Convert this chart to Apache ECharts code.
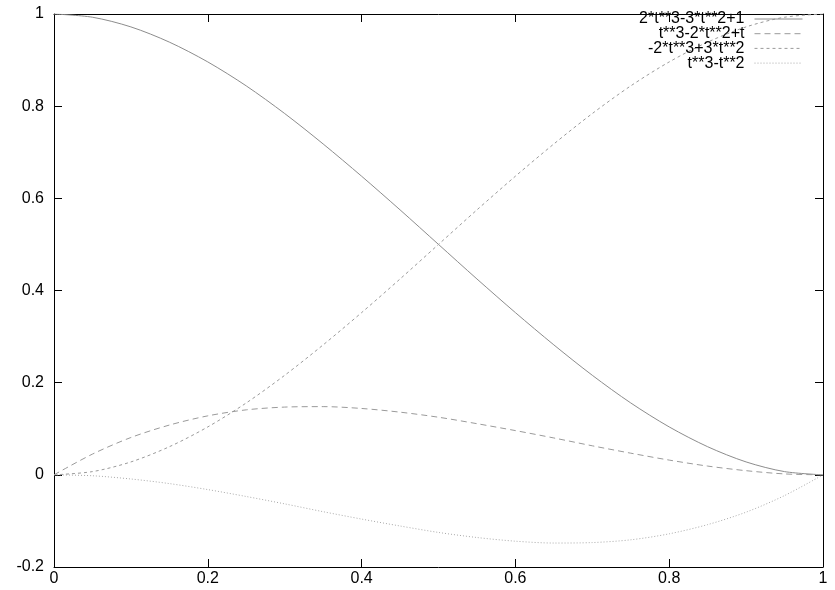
<!DOCTYPE html>
<html>
<head>
<meta charset="utf-8">
<script src="https://cdn.jsdelivr.net/npm/echarts@6/dist/echarts.min.js"></script>
<style>
  html, body { margin: 0; padding: 0; background: #fff; }
  #chart { width: 835px; height: 590px; }
</style>
</head>
<body>
<div id="chart"></div>
<script>
// t samples and curve values
const tValues = [0, 0.05, 0.1, 0.15, 0.2, 0.25, 0.3, 0.35, 0.4, 0.45, 0.5,
                 0.55, 0.6, 0.65, 0.7, 0.75, 0.8, 0.85, 0.9, 0.95, 1];
const h00 = [1, 0.993, 0.972, 0.939, 0.896, 0.844, 0.784, 0.718, 0.648, 0.575, 0.5,
             0.425, 0.352, 0.282, 0.216, 0.156, 0.104, 0.061, 0.028, 0.007, 0];
const h10 = [0, 0.045, 0.081, 0.108, 0.128, 0.141, 0.147, 0.148, 0.144, 0.136, 0.125,
             0.111, 0.096, 0.080, 0.063, 0.047, 0.032, 0.019, 0.009, 0.002, 0];
const h01 = [0, 0.007, 0.028, 0.061, 0.104, 0.156, 0.216, 0.282, 0.352, 0.425, 0.5,
             0.575, 0.648, 0.718, 0.784, 0.844, 0.896, 0.939, 0.972, 0.993, 1];
const h11 = [0, -0.002, -0.009, -0.019, -0.032, -0.047, -0.063, -0.080, -0.096, -0.111, -0.125,
             -0.136, -0.144, -0.148, -0.147, -0.141, -0.128, -0.108, -0.081, -0.045, 0];
const seriesNames = ["2*t**3-3*t**2+1", "t**3-2*t**2+t", "-2*t**3+3*t**2", "t**3-t**2"];
const seriesValues = [h00, h10, h01, h11];
const dashes = ["solid", [6, 4], [3, 3], [1, 2]];
const lineColors = ["#8c8c8c", "#9a9a9a", "#9a9a9a", "#a8a8a8"];

const chart = echarts.init(document.getElementById("chart"));

const font = "Liberation Sans, Arial, sans-serif";
const axisBase = {
    type: "value",
    axisLine: { show: true, onZero: false, lineStyle: { color: "#000", width: 1 } },
    axisTick: { show: true, inside: true, length: 8, lineStyle: { color: "#000" } },
    splitLine: { show: false },
};

const option = {
    animation: false,
    grid: { left: 54, right: 12, top: 14, bottom: 23 },
    legend: {
        orient: "vertical",
        right: 32,
        top: 11,
        padding: 0,
        align: "right",
        itemWidth: 48,
        itemHeight: 14,
        itemGap: -1.3,
        selectedMode: false,
        itemStyle: { opacity: 0 },
        lineStyle: { width: 1 },
        textStyle: { fontFamily: font, fontSize: 16, lineHeight: 14, color: "#000", padding: [0, 5, 0, 0] },
        data: seriesNames,
    },
    xAxis: [
        Object.assign({}, axisBase, {
            position: "bottom", min: 0, max: 1, interval: 0.2,
            axisLabel: { fontFamily: font, fontSize: 16, color: "#000", margin: 4 },
        }),
        Object.assign({}, axisBase, {
            position: "top", min: 0, max: 1, interval: 0.2,
            axisLabel: { show: false },
        }),
    ],
    yAxis: [
        Object.assign({}, axisBase, {
            position: "left", min: -0.2, max: 1, interval: 0.2,
            axisLabel: { fontFamily: font, fontSize: 16, color: "#000", margin: 10 },
        }),
        Object.assign({}, axisBase, {
            position: "right", min: -0.2, max: 1, interval: 0.2,
            axisLabel: { show: false },
        }),
    ],
    series: seriesNames.map((name, i) => ({
        name: name,
        type: "line",
        xAxisIndex: 0,
        yAxisIndex: 0,
        showSymbol: false,
        symbol: "none",
        smooth: 0.3,
        color: lineColors[i],
        lineStyle: { color: lineColors[i], width: 1, type: dashes[i] },
        data: tValues.map((t, j) => [t, seriesValues[i][j]]),
    })),
};
chart.setOption(option);

window.addEventListener("resize", () => {
    chart.resize();
});
</script>
</body>
</html>
